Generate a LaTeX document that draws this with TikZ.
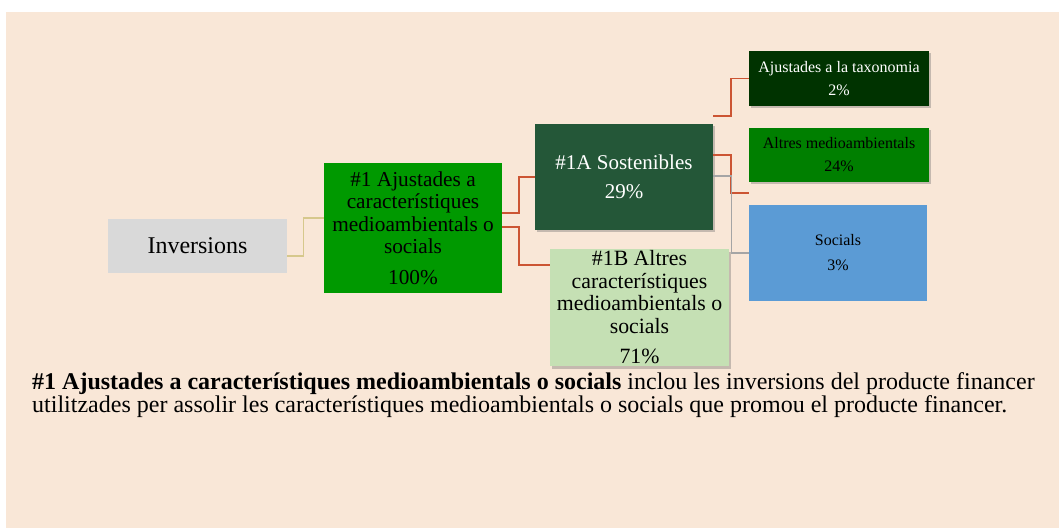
\documentclass[tikz,border=0pt]{standalone}
\usepackage{fontspec}
\setmainfont{Liberation Serif}
\usetikzlibrary{shadows}
\definecolor{bg}{RGB}{249,231,215}
\definecolor{invgray}{RGB}{217,217,217}
\definecolor{gA}{RGB}{0,153,0}
\definecolor{gB}{RGB}{36,87,56}
\definecolor{gC}{RGB}{197,224,180}
\definecolor{gD}{RGB}{0,51,0}
\definecolor{gE}{RGB}{0,127,0}
\definecolor{bl}{RGB}{91,155,213}
\definecolor{redc}{RGB}{204,85,51}
\definecolor{tanc}{RGB}{214,200,140}
\definecolor{grc}{RGB}{165,165,165}
\begin{document}
\begin{tikzpicture}[x=1pt,y=-1pt,
  box/.style={draw=none,inner sep=0pt,align=center,anchor=center},
  shad/.style={drop shadow={shadow xshift=2pt,shadow yshift=-2.5pt,opacity=0.35,fill=black!60}},
  redl/.style={draw=redc,line width=1.6pt},
  tanl/.style={draw=tanc,line width=1.4pt},
  grayl/.style={draw=grc,line width=1.2pt}]
\useasboundingbox (0,0) rectangle (1059,529);
\fill[bg] (6,12) rectangle (1059,528);
\node[box,fill=invgray,minimum width=179pt,minimum height=54pt,font=\fontsize{24}{26}\selectfont] (inv) at (197.5,246) {Inversions};
\node[box,fill=gA,minimum width=178pt,minimum height=130pt,font=\fontsize{21.3}{22.5}\selectfont] (a1) at (413,228) {\#1 Ajustades a\\característiques\\medioambientals o\\socials\\[8pt]100\%};
\node[box,shad,fill=gB,text=white,minimum width=178pt,minimum height=106pt,font=\fontsize{21}{29}\selectfont] (a1A) at (624,177) {\#1A Sostenibles\\29\%};
\node[box,shad,fill=gC,minimum width=179pt,minimum height=117pt,font=\fontsize{21.8}{22.5}\selectfont] (a1B) at (639.5,307.5) {\#1B Altres\\característiques\\medioambientals o\\socials\\[8pt]71\%};
\node[box,shad,fill=gD,text=white,minimum width=180pt,minimum height=55pt,font=\fontsize{16}{23}\selectfont] (tax) at (839,78.5) {Ajustades a la taxonomia\\2\%};
\node[box,shad,fill=gE,minimum width=180pt,minimum height=54pt,font=\fontsize{16}{23}\selectfont] (alt) at (839,155) {Altres medioambientals\\24\%};
\node[box,fill=bl,minimum width=178pt,minimum height=96pt,font=\fontsize{16}{25}\selectfont] (soc) at (838,253) {Socials\\3\%};
\draw[tanl] ([yshift=-10pt]inv.east) -- ++(16,0) |- ([yshift=10pt]a1.west);
\draw[redl] ([yshift=15pt]a1.east) -- ++(17,0) |- (a1A.west);
\draw[redl] ([yshift=1pt]a1.east) -- ++(17,0) |- ([yshift=42.5pt]a1B.west);
\draw[redl] ([yshift=61pt]a1A.east) -- ++(18,0) |- (tax.west);
\draw[redl] ([yshift=22pt]a1A.east) -- ++(18,0) |- ([yshift=-38pt]alt.west);
\draw[grayl] ([yshift=1pt]a1A.east) -- ++(18,0) |- (soc.west);
\node[anchor=base west,inner sep=0pt,align=left,font=\fontsize{24}{23}\selectfont] (txt) at (32,412) {\textbf{\#1 Ajustades a característiques medioambientals o socials} inclou les inversions del producte financer\\utilitzades per assolir les característiques medioambientals o socials que promou el producte financer.};
\end{tikzpicture}
\end{document}
